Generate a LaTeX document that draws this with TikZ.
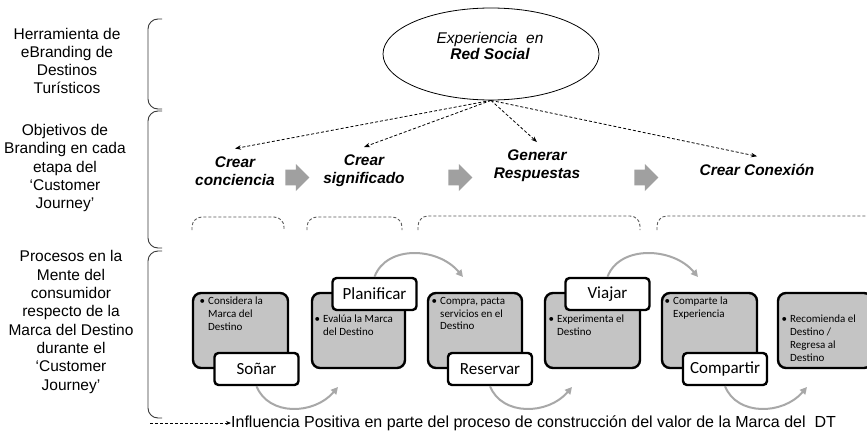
\documentclass[tikz,border=0pt]{standalone}
\usepackage{fontspec}
\setmainfont{Liberation Sans}
\newfontfamily\calib{Carlito}
\usetikzlibrary{arrows.meta,shapes.geometric,shapes.arrows}
\definecolor{boxgray}{HTML}{C4C4C4}
\definecolor{arcgray}{HTML}{A8A8A8}
\definecolor{blkgray}{HTML}{A0A0A0}
\definecolor{brk}{HTML}{5A5A5A}
\definecolor{bracecol}{HTML}{3A3A3A}
\begin{document}
\begin{tikzpicture}[x=1pt,y=-1pt,
  lefttext/.style={align=center,font=\fontsize{15.5}{18.3}\selectfont,inner sep=0pt},
  bracepath/.style={draw=bracecol,line width=0.9pt,rounded corners=10pt},
  objtext/.style={align=center,font=\fontsize{15.4}{18}\selectfont\bfseries\itshape,inner sep=0pt,outer sep=8pt},
  dasharr/.style={dash pattern=on 3pt off 2pt,line width=0.8pt,-{Stealth[length=6pt,width=4.5pt]}},
  dbracket/.style={draw=brk,dash pattern=on 3pt off 2pt,line width=0.9pt,rounded corners=10pt},
  gbox/.style={draw=black,line width=2.4pt,fill=boxgray,rounded corners=8pt,minimum height=75pt,inner sep=0pt},
  lbox/.style={draw=black,line width=2.4pt,fill=white,rounded corners=4pt,minimum width=84pt,minimum height=32pt,font=\calib\fontsize{17}{20}\selectfont,inner sep=0pt},
  btext/.style={anchor=north west,align=left,font=\calib\fontsize{11}{12.8}\selectfont,inner sep=0pt},
  grayarc/.style={draw=arcgray,line width=2pt,-{Triangle[length=7pt,width=7pt]}},
  blockarr/.style={single arrow,fill=blkgray,draw=none,minimum height=24pt,minimum width=27pt,single arrow head extend=5pt,inner sep=7pt}
]
\clip (0,0) rectangle (867,431);
\fill[white] (0,0) rectangle (867,431);

% left labels
\node[lefttext] (g1) at (67,61) {Herramienta de\\eBranding de\\Destinos\\Turísticos};
\node[lefttext] (g2) at (65,168) {Objetivos de\\Branding en cada\\etapa del\\‘Customer\\Journey’};
\node[lefttext] (g3) at (71,322) {Procesos en la\\Mente del\\consumidor\\respecto de la\\Marca del Destino\\durante el\\‘Customer\\Journey’};

% braces
\draw[bracepath] (162,19) -- (148,19) -- (148,109) -- (162,109);
\draw[bracepath] (162,111) -- (148,111) -- (148,248) -- (162,248);
\draw[bracepath] (162,251) -- (148,251) -- (148,418) -- (162,418);

% ellipse
\node[draw,ellipse,line width=0.8pt,minimum width=216pt,minimum height=92pt] (ell) at (491,54) {};
\node[align=center,inner sep=0pt,font=\fontsize{15.5}{16.5}\selectfont] (elltxt) at (490,46) {\itshape Experiencia~~en\\\bfseries\itshape Red Social};

% objectives
\node[objtext] (obj1) at (235,171) {Crear\\conciencia};
\node[objtext] (obj2) at (364,171) {Crear\\significado};
\node[objtext] (obj3) at (537,166) {Generar\\Respuestas};
\node[objtext] (obj4) at (757,170) {Crear Conexión};

\draw[dasharr] (ell.south) -- (obj1.north);
\draw[dasharr] (ell.south) -- (obj2.north);
\draw[dasharr] (ell.south) -- (obj3.north);
\draw[dasharr] (ell.south) -- (obj4.north);

% gray block arrows
\node[blockarr] (ga1) at (293.5,177.5) {};
\node[blockarr] (ga2) at (456.5,177.5) {};
\node[blockarr] (ga3) at (642.5,177.5) {};

% dashed brackets
\draw[dbracket] (192,230) -- (192,217) -- (284,217) -- (284,230);
\draw[dbracket] (307,230) -- (307,217) -- (402,217) -- (402,230);
\draw[dbracket] (418,230) -- (418,216) -- (640,216) -- (640,230);
\draw[dbracket] (657,230) -- (657,216) -- (880,216);

% process boxes
\node[gbox,minimum width=95pt] (b1) at (240.5,330.5) {};
\node[gbox,minimum width=93pt] (b2) at (358.5,330.5) {};
\node[gbox,minimum width=94pt] (b3) at (475,330.5) {};
\node[gbox,minimum width=95pt] (b4) at (592.5,330.5) {};
\node[gbox,minimum width=95pt] (b5) at (709.5,330.5) {};
\node[gbox,minimum width=94pt] (b6) at (825,330.5) {};

\node[btext] (t1) at (208,297) {\llap{•\hspace{3pt}}Considera la\\Marca del\\Destino};
\node[btext] (t2) at (323,315) {\llap{•\hspace{3pt}}Evalúa la Marca\\del Destino};
\node[btext] (t3) at (440,297) {\llap{•\hspace{3pt}}Compra, pacta\\servicios en el\\Destino};
\node[btext] (t4) at (557,315) {\llap{•\hspace{3pt}}Experimenta el\\Destino};
\node[btext] (t5) at (673,297) {\llap{•\hspace{3pt}}Comparte la\\Experiencia};
\node[btext] (t6) at (790,315) {\llap{•\hspace{3pt}}Recomienda el\\Destino /\\Regresa al\\Destino};

% label boxes
\node[lbox] (sonar) at (256.5,369) {Soñar};
\node[lbox] (plan) at (374.5,294) {Planificar};
\node[lbox] (res) at (490,369) {Reservar};
\node[lbox] (viaj) at (607.5,294) {Viajar};
\node[lbox] (comp) at (725,369) {Compartir};

% curved gray arrows
\coordinate (e1) at (338,387);
\coordinate (e2) at (463,277);
\coordinate (e3) at (572,387);
\coordinate (e4) at (698,277);
\coordinate (e5) at (807,387);
\draw[grayarc] (sonar.south) .. controls +(12,30) and +(-24,28) .. (e1);
\draw[grayarc] (plan.north) .. controls +(12,-32) and +(-25,-30) .. (e2);
\draw[grayarc] (res.south) .. controls +(12,30) and +(-24,28) .. (e3);
\draw[grayarc] (viaj.north) .. controls +(12,-32) and +(-25,-30) .. (e4);
\draw[grayarc] (comp.south) .. controls +(12,30) and +(-24,28) .. (e5);

% legend
\coordinate (lg0) at (150,423);
\node[anchor=west,inner sep=0pt,font=\fontsize{16}{18}\selectfont] (legend) at (231,423) {Influencia Positiva en parte del proceso de construcción del valor de la Marca del~~DT};
\draw[dash pattern=on 3pt off 2pt,line width=0.8pt,-{Stealth[length=5pt,width=4pt]}] (lg0) -- (legend.west);
\end{tikzpicture}
\end{document}
